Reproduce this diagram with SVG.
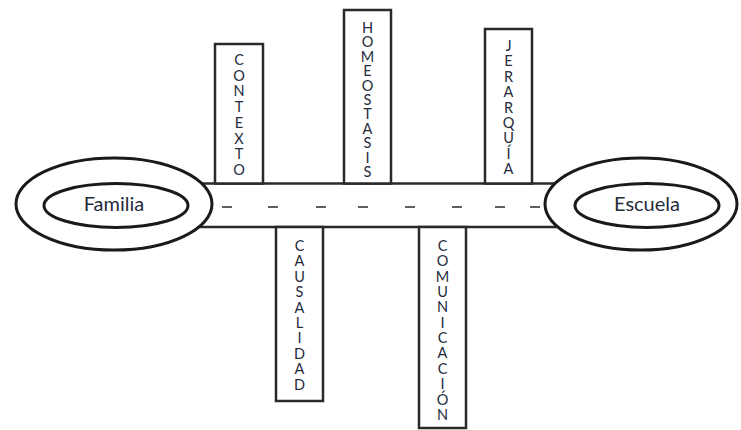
<svg xmlns="http://www.w3.org/2000/svg" width="741" height="430" viewBox="0 0 741 430">
  <style>
    .ring { fill: #ffffff; stroke: #1a1a1a; stroke-width: 3; }
    .inner { fill: none; stroke: #1a1a1a; stroke-width: 3; }
    .box { fill: #ffffff; stroke: #2a2a2a; stroke-width: 2.5; }
    .edge { stroke: #2a2a2a; stroke-width: 2.5; fill: none; }
    .dash { stroke: #2a2a2a; stroke-width: 1.5; }
    .name { font-family: Lato, "Open Sans", "Liberation Sans", sans-serif; font-size: 20px; fill: #262c3c; text-anchor: middle; }
    .word { font-family: Lato, "Open Sans", "Liberation Sans", sans-serif; font-size: 14.5px; fill: #262c3c; text-anchor: middle; }
  </style>

  <!-- road joining the two rings -->
  <g id="connectors">
    <line class="edge" x1="190" y1="183.5" x2="575" y2="183.5"/>
    <line class="edge" x1="190" y1="227" x2="575" y2="227"/>
    <g class="dash">
      <line x1="222" y1="207" x2="232" y2="207"/>
      <line x1="268" y1="207" x2="278" y2="207"/>
      <line x1="316" y1="207" x2="326" y2="207"/>
      <line x1="358" y1="207" x2="368" y2="207"/>
      <line x1="405" y1="207" x2="415" y2="207"/>
      <line x1="452" y1="207" x2="462" y2="207"/>
      <line x1="495" y1="207" x2="505" y2="207"/>
      <line x1="530" y1="207" x2="540" y2="207"/>
    </g>
  </g>

  <g id="familia">
    <ellipse class="ring" cx="114" cy="204" rx="98" ry="46"/>
    <ellipse class="inner" cx="116" cy="205.5" rx="72" ry="22"/>
    <text class="name" x="114" y="211">Familia</text>
  </g>

  <g id="escuela">
    <ellipse class="ring" cx="641" cy="204" rx="96" ry="46"/>
    <ellipse class="inner" cx="647" cy="205.5" rx="72" ry="22"/>
    <text class="name" x="647" y="211">Escuela</text>
  </g>

  <g id="contexto">
    <rect class="box" x="215" y="44" width="48" height="139.5"/>
    <text class="word">
      <tspan x="239" y="65">C</tspan><tspan x="239" y="81">O</tspan><tspan x="239" y="96">N</tspan><tspan x="239" y="112">T</tspan><tspan x="239" y="128">E</tspan><tspan x="239" y="144">X</tspan><tspan x="239" y="159">T</tspan><tspan x="239" y="175">O</tspan>
    </text>
  </g>

  <g id="homeostasis">
    <rect class="box" x="344" y="10" width="47" height="173.5"/>
    <text class="word">
      <tspan x="367.5" y="33">H</tspan><tspan x="367.5" y="47">O</tspan><tspan x="367.5" y="62">M</tspan><tspan x="367.5" y="76">E</tspan><tspan x="367.5" y="91">O</tspan><tspan x="367.5" y="105">S</tspan><tspan x="367.5" y="119">T</tspan><tspan x="367.5" y="134">A</tspan><tspan x="367.5" y="148">S</tspan><tspan x="367.5" y="163">I</tspan><tspan x="367.5" y="177">S</tspan>
    </text>
  </g>

  <g id="jerarquia">
    <rect class="box" x="485" y="29" width="47" height="154.5"/>
    <text class="word">
      <tspan x="508.5" y="51">J</tspan><tspan x="508.5" y="66">E</tspan><tspan x="508.5" y="82">R</tspan><tspan x="508.5" y="97">A</tspan><tspan x="508.5" y="113">R</tspan><tspan x="508.5" y="128">Q</tspan><tspan x="508.5" y="143">U</tspan><tspan x="508.5" y="159">Í</tspan><tspan x="508.5" y="174">A</tspan>
    </text>
  </g>

  <g id="causalidad">
    <rect class="box" x="276" y="227" width="47" height="174"/>
    <text class="word">
      <tspan x="299.5" y="251">C</tspan><tspan x="299.5" y="266">A</tspan><tspan x="299.5" y="282">U</tspan><tspan x="299.5" y="297">S</tspan><tspan x="299.5" y="313">A</tspan><tspan x="299.5" y="328">L</tspan><tspan x="299.5" y="343">I</tspan><tspan x="299.5" y="359">D</tspan><tspan x="299.5" y="374">A</tspan><tspan x="299.5" y="390">D</tspan>
    </text>
  </g>

  <g id="comunicacion">
    <rect class="box" x="419" y="227" width="47" height="201"/>
    <text class="word">
      <tspan x="442.5" y="251">C</tspan><tspan x="442.5" y="266">O</tspan><tspan x="442.5" y="282">M</tspan><tspan x="442.5" y="297">U</tspan><tspan x="442.5" y="312">N</tspan><tspan x="442.5" y="328">I</tspan><tspan x="442.5" y="343">C</tspan><tspan x="442.5" y="358">A</tspan><tspan x="442.5" y="374">C</tspan><tspan x="442.5" y="389">I</tspan><tspan x="442.5" y="405">Ó</tspan><tspan x="442.5" y="420">N</tspan>
    </text>
  </g>
</svg>
